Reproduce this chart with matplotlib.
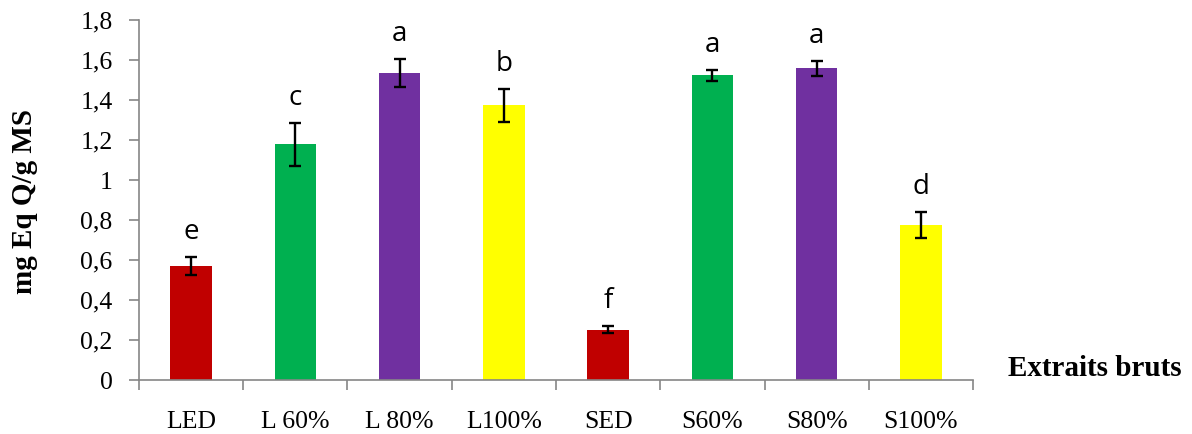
import matplotlib
matplotlib.use("Agg")
import matplotlib.pyplot as plt
import numpy as np
from matplotlib.ticker import FuncFormatter, FixedLocator

# data
categories = ['LED', 'L 60%', 'L 80%', 'L100%', 'SED', 'S60%', 'S80%', 'S100%']
values = [0.57, 1.178, 1.535, 1.373, 0.252, 1.523, 1.558, 0.774]
errors = [0.046, 0.108, 0.07, 0.082, 0.017, 0.027, 0.037, 0.064]
letters = ['e', 'c', 'a', 'b', 'f', 'a', 'a', 'd']
colors = ['#C00000', '#00B050', '#7030A0', '#FFFF00',
          '#C00000', '#00B050', '#7030A0', '#FFFF00']

axis_grey = '#868686'

fig = plt.figure(figsize=(11.92, 4.34), dpi=100)
ax = fig.add_axes([0.1166, 0.1244, 0.6997, 0.8295])

x = np.arange(len(categories))
ax.bar(x, values, width=0.4, color=colors, zorder=2)
ax.errorbar(x, values, yerr=errors, fmt='none', ecolor='black',
            elinewidth=1.7, capsize=4.5, capthick=1.7, zorder=3)

for xi, v, e, lab in zip(x, values, errors, letters):
    ax.text(xi, v + e + 0.055, lab, ha='center', va='bottom',
            fontsize=20, family='Open Sans')

ax.set_xlim(-0.5, len(categories) - 0.5)
ax.set_ylim(0, 1.8)
ax.set_yticks(np.arange(0, 1.81, 0.2))
ax.yaxis.set_major_formatter(FuncFormatter(lambda v, p: f"{v:.1f}".rstrip('0').rstrip('.').replace('.', ',')))

ax.set_xticks(x)
ax.set_xticklabels(categories)
ax.xaxis.set_minor_locator(FixedLocator(np.arange(-0.5, len(categories), 1.0)))
ax.tick_params(axis='x', which='major', length=0, pad=22)
ax.tick_params(axis='x', which='minor', length=7, width=1.2, color=axis_grey)
ax.tick_params(axis='y', length=7, width=1.2, color=axis_grey, pad=12)

for lab in ax.get_xticklabels() + ax.get_yticklabels():
    lab.set_family('Liberation Serif')
    lab.set_fontsize(18.5)

for s in ['top', 'right']:
    ax.spines[s].set_visible(False)
for s in ['left', 'bottom']:
    ax.spines[s].set_color(axis_grey)
    ax.spines[s].set_linewidth(1.2)

fig.text(25 / 1192, 0.5346, 'mg Eq Q/g MS', family='Liberation Serif',
         fontweight='bold', fontsize=21, rotation=90, ha='center', va='center')
fig.text(0.8456, 0.152, 'Extraits bruts', family='Liberation Serif',
         fontweight='bold', fontsize=21, ha='left', va='center')

fig.savefig('out.png', dpi=100)
